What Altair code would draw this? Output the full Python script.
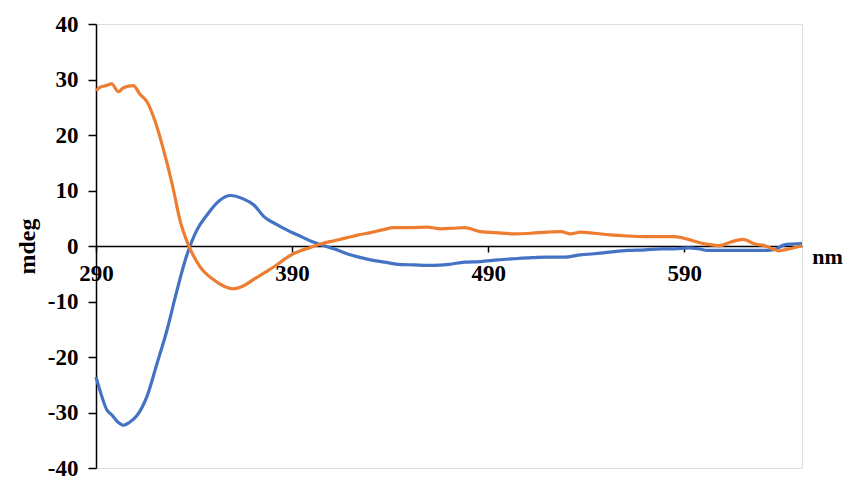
import altair as alt
import pandas as pd

# Series A (blue)
nm_a = [290, 292, 295.5, 298, 301.4, 304, 307, 310.8, 316, 321, 326, 331, 336, 341.5, 346.6,
        353, 358.5, 365, 370.5, 375.6, 382, 389, 394, 400, 405, 412, 418, 424, 430, 437, 444,
        452, 461, 470, 478, 486, 495, 503, 512, 520, 529, 537, 544, 552, 561, 570, 578, 585,
        592, 597, 602, 612, 623, 630, 635, 638, 641, 645, 650]
mdeg_a = [-23.6, -26.0, -29.5, -30.4, -31.8, -32.3, -31.8, -30.6, -27.1, -21.3, -15.4, -8.4, -2.0,
          2.9, 5.6, 8.2, 9.1, 8.5, 7.4, 5.3, 3.9, 2.6, 1.8, 0.8, 0.2, -0.6, -1.4, -2.0, -2.5,
          -2.9, -3.3, -3.4, -3.5, -3.3, -2.9, -2.8, -2.5, -2.3, -2.1, -2.0, -2.0, -1.6, -1.4,
          -1.1, -0.8, -0.7, -0.5, -0.5, -0.35, -0.5, -0.8, -0.8, -0.8, -0.8, -0.7, -0.3, 0.2,
          0.35, 0.45]

# Series B (orange)
nm_b = [290, 292, 295, 298, 301.4, 304, 309, 312.5, 316, 320, 324, 329, 333, 337, 343, 350, 355,
        360, 365, 370, 376, 381, 386, 390, 394, 399, 405, 412, 418, 424, 430, 436, 442, 450,
        459, 466, 472, 478, 486, 494, 503, 512, 520, 527, 532, 537, 544, 552, 561, 570, 578,
        585, 592, 599, 604, 608, 614, 620, 626, 631, 635, 638, 641, 645, 650]
mdeg_b = [28.0, 28.6, 28.9, 29.2, 27.8, 28.5, 28.9, 27.3, 26.0, 22.6, 17.9, 10.9, 4.4, 0.3, -3.7,
          -6.1, -7.2, -7.7, -7.2, -6.1, -4.8, -3.7, -2.4, -1.5, -0.9, -0.3, 0.4, 1.0, 1.5, 2.0,
          2.4, 2.9, 3.3, 3.3, 3.4, 3.1, 3.2, 3.3, 2.6, 2.4, 2.2, 2.3, 2.5, 2.6, 2.2, 2.5, 2.3,
          2.0, 1.8, 1.7, 1.7, 1.7, 1.2, 0.5, 0.2, 0.05, 0.75, 1.2, 0.35, 0.05, -0.5, -0.9, -0.7,
          -0.4, 0.05]

series_names = ["A", "B"]
series_colors = ["#4472C4", "#ED7D31"]
x_ticks = [290, 390, 490, 590]
y_ticks = [-40, -30, -20, -10, 0, 10, 20, 30, 40]

df = pd.concat([
    pd.DataFrame({"nm": nm_a, "mdeg": mdeg_a, "s": series_names[0]}),
    pd.DataFrame({"nm": nm_b, "mdeg": mdeg_b, "s": series_names[1]}),
])

W, H = 706, 444
FONT = "Times New Roman, Liberation Serif, serif"

chart = alt.Chart(df).mark_line(strokeWidth=3.2, interpolate="monotone").encode(
    x=alt.X("nm:Q", scale=alt.Scale(domain=[290, 650], nice=False, zero=False),
            axis=alt.Axis(values=x_ticks, offset=-H / 2, title="nm", grid=False,
                          domainColor="black", domainWidth=1.5, tickColor="black",
                          tickWidth=1.5, tickSize=6, labelPadding=10, labelFlush=False,
                          labelFont=FONT, labelFontSize=23, labelFontWeight="bold",
                          labelColor="black", titleFont=FONT, titleFontSize=22,
                          titleFontWeight="bold", titleColor="black",
                          titleX=W + 25, titleY=10, titleAlign="center",
                          titleBaseline="middle", titleAnchor="start",
                          labelExpr="'' + datum.value")),
    y=alt.Y("mdeg:Q", scale=alt.Scale(domain=[-40, 40], nice=False),
            axis=alt.Axis(values=y_ticks, title="mdeg", grid=False,
                          domainColor="black", domainWidth=1.5, tickColor="black",
                          tickWidth=1.5, tickSize=8, labelPadding=10, labelFlush=False,
                          labelFont=FONT, labelFontSize=23, labelFontWeight="bold",
                          labelColor="black", titleFont=FONT, titleFontSize=24,
                          titleFontWeight="bold", titleColor="black",
                          titleX=-69, titleY=H / 2, titleAngle=-90,
                          titleAlign="center", titleBaseline="middle",
                          labelExpr="'' + datum.value")),
    color=alt.Color("s:N", scale=alt.Scale(domain=series_names, range=series_colors), legend=None),
    detail="s:N",
).properties(
    width=W, height=H,
    autosize=alt.AutoSizeParams(type="none"),
    padding={"left": 88, "top": 16, "right": 43, "bottom": 12},
).configure_view(stroke=None).configure(background="white")

chart.save("out.html", embed_options={"renderer": "svg", "actions": False})
